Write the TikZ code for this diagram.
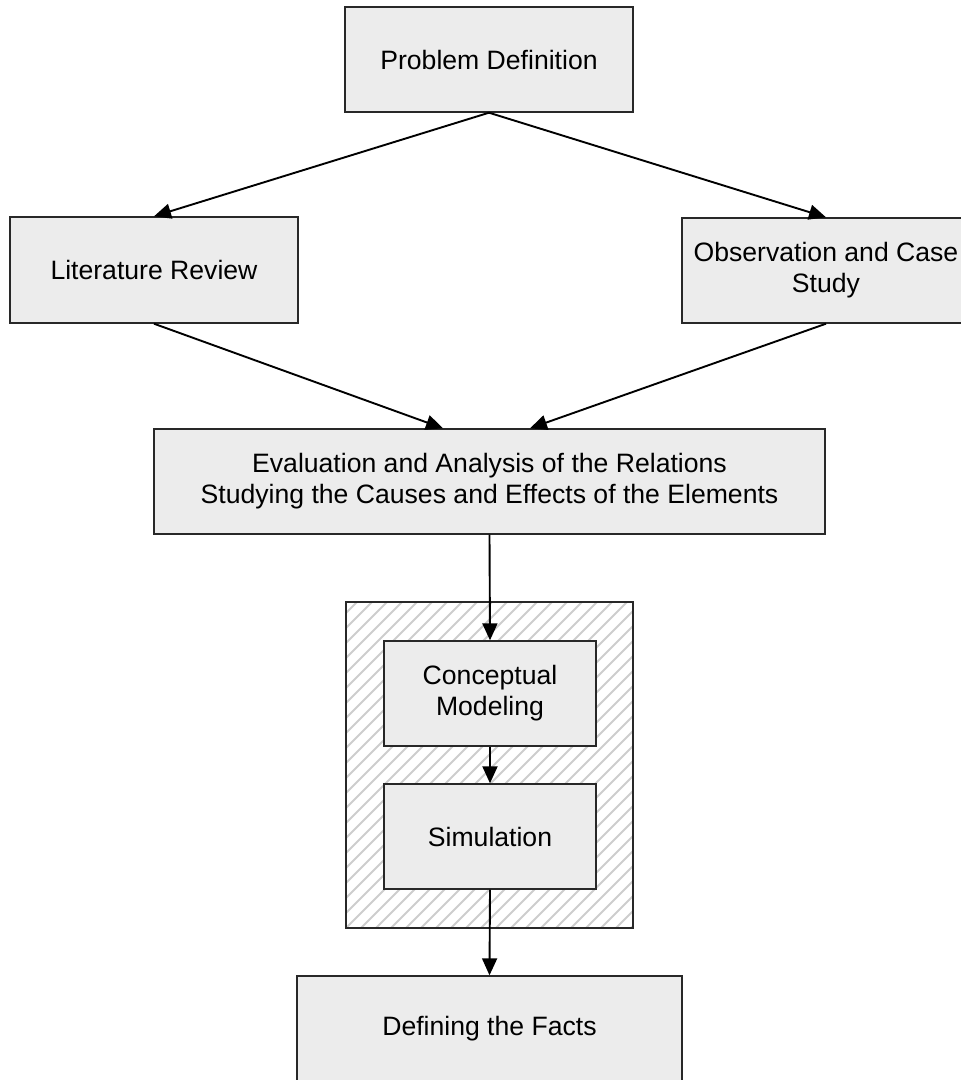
\documentclass[tikz,border=0pt]{standalone}
\usepackage{fontspec}
\setmainfont{Liberation Sans}
\usetikzlibrary{arrows.meta}
\definecolor{boxfill}{RGB}{236,236,236}
\definecolor{hatchgray}{RGB}{205,205,205}
\definecolor{edge}{RGB}{40,40,40}
\begin{document}
\begin{tikzpicture}[x=1pt,y=-1pt,
  box/.style={draw=edge,line width=1.4pt,fill=boxfill,inner sep=0pt,align=center,
    font=\fontsize{26.6}{31}\selectfont},
  hatchline/.style={draw=hatchgray,line width=2pt},
  arr/.style={-{Triangle[length=17pt,width=15pt]},line width=1.9pt,draw=black}]
\useasboundingbox (0,0) rectangle (961,1080);
% hatched container
\node[draw=edge,line width=1.4pt,inner sep=0pt,minimum width=287pt,minimum height=326pt,
  path picture={\foreach \i in {0,15,...,630}
    \draw[hatchline] ([xshift={\i pt-330pt}]path picture bounding box.south west) -- ++(330pt,330pt);}]
  (hz) at (489.5,765) {};
% boxes
\node[box,minimum width=288pt,minimum height=105pt] (pd) at (489,59.5) {Problem Definition};
\node[box,minimum width=288pt,minimum height=106pt] (lr) at (154,270) {Literature Review};
\node[box,minimum width=288pt,minimum height=105pt] (obs) at (826,270.5) {Observation and Case\\Study};
\node[box,minimum width=671pt,minimum height=105pt] (ev) at (489.5,481.5)
  {Evaluation and Analysis of the Relations\\Studying the Causes and Effects of the Elements};
\node[box,minimum width=212pt,minimum height=105pt] (cm) at (490,693.5) {Conceptual\\Modeling};
\node[box,minimum width=212pt,minimum height=105pt] (sim) at (490,836.5) {Simulation};
\node[box,minimum width=385pt,minimum height=105pt] (df) at (489.5,1028.5) {Defining the Facts};
% connectors
\coordinate (evl) at ([xshift=-46.5pt]ev.north);
\coordinate (evr) at ([xshift=40.5pt]ev.north);
\draw[arr] (pd.south) -- (lr.north);
\draw[arr] (pd.south) -- (obs.north);
\draw[arr] (lr.south) -- (evl);
\draw[arr] (obs.south) -- (evr);
\draw[arr] (ev.south) -- (cm.north);
\draw[arr] (cm.south) -- (sim.north);
\draw[arr] (sim.south) -- (df.north);
\end{tikzpicture}
\end{document}
